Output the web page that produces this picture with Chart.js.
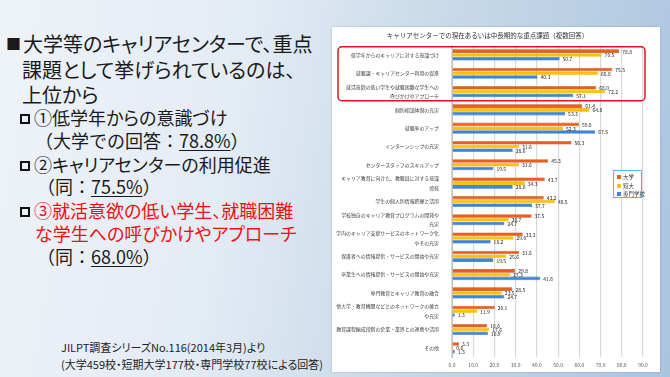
<!DOCTYPE html>
<html><head><meta charset="utf-8">
<script src="https://cdn.jsdelivr.net/npm/chart.js@4"></script>
<style>
html,body{margin:0;padding:0;}
body{width:670px;height:377px;overflow:hidden;position:relative;
 background:linear-gradient(100deg,#eef3f8 0%,#e3ebf4 35%,#c9dae9 60%,#aac4df 100%);
 font-family:"Noto Sans CJK JP",sans-serif;color:#1a1a1a;}
.t{position:absolute;white-space:nowrap;}
.p{font-feature-settings:"palt";}
.h{font-size:20px;line-height:26px;}
.s{font-size:18px;line-height:22px;}
.red{color:#f01010;}
.u{text-decoration:underline;text-decoration-thickness:1px;text-underline-offset:2px;}
.box{display:inline-block;width:10px;height:10px;border:2px solid #111;box-sizing:border-box;margin-right:4px;vertical-align:1px;}
.sq{font-size:15px;vertical-align:2px;margin-right:2px;}
#panel{position:absolute;left:332px;top:27px;width:328px;height:345px;background:#fff;box-shadow:0 0 2px rgba(80,110,150,0.4);}
#legend{position:absolute;left:613px;top:170px;width:29px;height:28px;border:1px solid #56bde9;background:#fff;box-sizing:border-box;font-size:5.5px;color:#333;padding-top:2px;}
#legend div{height:8.5px;line-height:8.5px;padding-left:3px;white-space:nowrap;}
#legend span{display:inline-block;width:4px;height:4px;margin-right:2px;vertical-align:0px;}
.f{position:absolute;left:61px;font-size:11px;color:#222;white-space:nowrap;font-family:"Noto Sans CJK JP",sans-serif;font-feature-settings:"palt";}
</style></head><body>
<div class="t h p" style="left:6px;top:31px;"><span class="sq">■</span>大学等のキャリアセンターで、重点</div>
<div class="t h p" style="left:22px;top:57px;">課題として挙げられているのは、</div>
<div class="t h p" style="left:22px;top:82px;">上位から</div>
<div class="t s p" style="left:20px;top:106px;"><span class="box"></span>①低学年からの意識づけ</div>
<div class="t s" style="left:35px;top:129px;">（大学での回答：<span class="u">78.8%</span>）</div>
<div class="t s p" style="left:20px;top:153px;"><span class="box"></span>②キャリアセンターの利用促進</div>
<div class="t s" style="left:37px;top:175px;">（同：<span class="u">75.5%</span>）</div>
<div class="t s p" style="left:20px;top:199px;"><span class="box"></span><span class="red">③就活意欲の低い学生、就職困難</span></div>
<div class="t s p red" style="left:35px;top:222px;">な学生への呼びかけやアプローチ</div>
<div class="t s" style="left:37px;top:245px;">（同：<span class="u">68.0%</span>）</div>
<div class="f" style="top:339px;">JILPT調査シリーズNo.116(2014年3月)より</div>
<div class="f" style="top:356px;">(大学459校・短期大学177校・専門学校77校による回答)</div>
<div id="panel"><canvas id="c" width="328" height="345"></canvas></div>
<div id="legend">
 <div><span style="background:#e8601c"></span>大学</div>
 <div><span style="background:#ffc000"></span>短大</div>
 <div><span style="background:#3d85d8"></span>専門学校</div>
</div>
<script>
const categories = [
 "低学年からのキャリアに対する意識づけ",
 "就職課・キャリアセンター利用の促進",
 ["就活意欲の低い学生や就職困難な学生への","呼びかけやアプローチ"],
 "個別相談体制の充実",
 "就職率のアップ",
 "インターンシップの充実",
 "センタースタッフのスキルアップ",
 ["キャリア教育に向けた、教職員に対する意識","啓発"],
 "学生の個人別情報把握と活用",
 ["学校独自のキャリア教育プログラムの開発や","充実"],
 ["学内のキャリア支援サービスのネットワーク化","やその充実"],
 "保護者への情報提供・サービスの開始や充実",
 "卒業生への情報提供・サービスの開始や充実",
 "専門教育とキャリア教育の融合",
 ["他大学・教育機関などとのネットワークの確立","や充実"],
 "教育課程編成段階の企業・業界との連携や活用",
 "その他"
];
const seriesNames = ["大学","短大","専門学校"];
const daigaku = [78.8,75.5,68.0,61.4,59.8,56.3,45.3,43.7,43.2,37.5,33.3,31.6,29.8,28.5,20.1,16.6,3.3];
const tandai  = [70.5,68.8,72.2,64.8,52.3,31.6,31.6,34.3,48.5,26.7,29.0,25.6,27.3,23.5,11.9,17.6,0.6];
const senmon  = [50.7,40.3,57.1,53.3,67.5,28.6,19.5,28.6,37.7,24.7,18.2,19.5,41.6,24.7,1.3,16.9,1.3];
const xTicks = [0,10,20,30,40,50,60,70,80,90];
const chartTitle = "キャリアセンターでの現在あるいは中長期的な重点課題（複数回答）";
const highlightCount = 3;

const labelPlugin = {
 id:'vals',
 afterDatasetsDraw(chart){
  const ctx = chart.ctx;
  ctx.save();
  ctx.font = '5px "Noto Sans CJK JP", sans-serif';
  ctx.fillStyle = '#222';
  ctx.textBaseline = 'middle';
  chart.data.datasets.forEach((ds,di)=>{
   const meta = chart.getDatasetMeta(di);
   meta.data.forEach((bar,i)=>{
    ctx.fillText(ds.data[i].toFixed(1), bar.x + 3, bar.y + 0.5);
   });
  });
  ctx.restore();
 }
};
const boxPlugin = {
 id:'hl',
 afterDraw(chart){
  const y = chart.scales.y, ctx = chart.ctx;
  const step = y.getPixelForValue(1) - y.getPixelForValue(0);
  const top = y.getPixelForValue(0) - step/2 + 1;
  const bot = y.getPixelForValue(highlightCount-1) + step/2;
  const left = 6, right = chart.chartArea.right + 2, r = 4;
  ctx.save();
  ctx.strokeStyle = '#e8101a';
  ctx.lineWidth = 1.5;
  ctx.beginPath();
  ctx.roundRect(left, top, right-left, bot-top, r);
  ctx.stroke();
  ctx.restore();
 }
};

new Chart(document.getElementById('c'), {
 type:'bar',
 data:{
  labels: categories,
  datasets:[
   {label:seriesNames[0], data:daigaku, backgroundColor:'#e8601c', borderColor:'#c24a12', borderWidth:0.6},
   {label:seriesNames[1], data:tandai, backgroundColor:'#ffc000', borderColor:'#eaa900', borderWidth:0.6},
   {label:seriesNames[2], data:senmon, backgroundColor:'#3d85d8', borderColor:'#2a66b3', borderWidth:0.6}
  ]
 },
 options:{
  indexAxis:'y',
  responsive:false,
  animation:false,
  devicePixelRatio:1,
  layout:{padding:{left:0,right:17,top:0,bottom:0}},
  datasets:{bar:{categoryPercentage:0.62,barPercentage:0.95}},
  plugins:{
   legend:{display:false},
   tooltip:{enabled:false},
   title:{display:true,text:chartTitle,color:'#333',font:{family:'"Noto Sans CJK JP", sans-serif',size:6.5,weight:'normal'},padding:{top:5,bottom:6}}
  },
  scales:{
   x:{min:0,max:90,
      afterBuildTicks(s){s.ticks = xTicks.map(v=>({value:v}));},
      afterFit(s){s.height = 15;},
      grid:{color:'#d9d9d9',lineWidth:1.2,drawTicks:false},
      border:{display:false},
      ticks:{padding:5,color:'#555',font:{family:'"Noto Sans CJK JP", sans-serif',size:5},callback:v=>Number(v).toFixed(1)}},
   y:{
      afterFit(s){s.width = 120;},
      grid:{display:false},
      border:{display:true,color:'#bfbfbf',width:1},
      ticks:{padding:5,color:'#404040',autoSkip:false,font:{family:'"Noto Sans CJK JP", sans-serif',size:4.9,lineHeight:2}}}
  }
 },
 plugins:[labelPlugin, boxPlugin]
});
</script>
</body></html>
